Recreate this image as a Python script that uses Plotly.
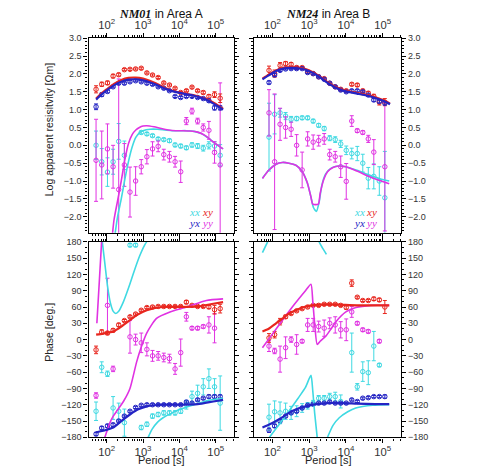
import plotly.graph_objects as go

# ---------------- periods of the observed data [s] ----------------
per_nm01 = [51, 73, 105, 150, 214, 306, 437, 624, 891, 1274, 1820, 2600, 3715, 5309,
            7586, 10840, 15490, 22130, 31620, 45190, 64570, 92260, 131800]
per_nm24 = [81, 115, 162, 229, 324, 457, 646, 912, 1288, 1820, 2570, 3631, 5129, 7244,
            10230, 14450, 20420, 28840, 40740, 57540, 81280, 114800]

# ---------------- NM01 log apparent resistivity ----------------
rho01_xy = [1.57, 1.71, 1.75, 1.94, 1.98, 2.12, 2.13, 2.14, 2.16, 2.03, 1.97, 1.90, 1.75, 1.69,
            1.60, 1.48, 1.53, 1.63, 1.53, 1.48, 1.37, 1.42, 1.32]
rho01_xy_err = [0.10, 0.06, 0.05, 0.05, 0.04, 0.03, 0.03, 0.03, 0.03, 0.03, 0.03, 0.03, 0.03, 0.03,
                0.03, 0.03, 0.03, 0.03, 0.03, 0.04, 0.05, 0.08, 0.12]
rho01_yx = [1.08, 1.42, 1.51, 1.64, 1.74, 1.74, 1.78, 1.81, 1.78, 1.74, 1.71, 1.64, 1.60, 1.53,
            1.37, 1.34, 1.37, 1.37, 1.34, 1.31, 1.25, 1.05, 1.05]
rho01_yx_err = [0.08, 0.05, 0.04, 0.03, 0.03, 0.03, 0.03, 0.03, 0.03, 0.03, 0.03, 0.03, 0.03, 0.03,
                0.03, 0.03, 0.03, 0.03, 0.03, 0.03, 0.04, 0.06, 0.06]
rho01_xx = [0.0, -0.46, -0.75, -0.46, 0.11, -0.28, None, None, 0.36, 0.32, 0.27, 0.18, 0.16, 0.13,
            0.01, -0.02, -0.07, 0.01, -0.02, -0.08, 0.0, -0.02, -0.28]
rho01_xx_err = [0.40, 0.37, 0.40, 0.35, 0.50, 0.40, 0, 0, 0.04, 0.04, 0.04, 0.04, 0.04, 0.05,
                0.05, 0.05, 0.05, 0.06, 0.07, 0.08, 0.10, 0.12, 0.30]
rho01_yy = [-0.42, -0.55, -0.10, -0.60, -1.24, -0.55, -1.31, -1.00, -0.60, -0.32, -0.10, -0.03,
            -0.26, -0.32, -0.46, -0.74, 0.68, 0.96, 0.68, 0.50, 0.42, -0.20, -0.55]
rho01_yy_err = [1.15, 0.95, 0.70, 0.60, 3.10, 0.60, 0.70, 0.40, 0.20, 0.20, 0.20, 0.15, 0.15, 0.15,
                0.15, 0.30, 0.10, 0.08, 0.08, 0.10, 0.25, 0.30, 2.30]

# ---------------- NM24 log apparent resistivity ----------------
rho24_xy = [2.10, 2.01, 2.24, 2.29, 2.27, 2.18, 2.18, 2.06, 2.01, 1.92, 1.87, 1.74, 1.64, 1.57,
            1.53, 1.71, 1.69, 1.53, 1.46, 1.37, 1.21, 1.21]
rho24_xy_err = [0.12, 0.10, 0.08, 0.06, 0.05, 0.04, 0.03, 0.03, 0.03, 0.03, 0.03, 0.03, 0.03, 0.03,
                0.03, 0.04, 0.04, 0.04, 0.05, 0.06, 0.08, 0.10]
rho24_yx = [1.76, 1.97, 2.10, 2.14, 2.15, 2.15, 2.15, 2.04, 2.01, 1.92, 1.85, 1.74, 1.64, 1.55,
            1.50, 1.53, 1.53, 1.50, 1.41, 1.27, 1.23, 1.18]
rho24_yx_err = [0.04, 0.04, 0.03, 0.03, 0.03, 0.03, 0.03, 0.03, 0.03, 0.03, 0.03, 0.03, 0.03, 0.03,
                0.03, 0.03, 0.03, 0.03, 0.03, 0.04, 0.04, 0.05]
rho24_xx = [0.23, 0.87, 0.91, 0.82, 0.73, 0.75, 0.77, 0.77, 0.68, 0.56, 0.47, 0.20, 0.16, 0.04,
            -0.14, -0.23, -0.23, -0.50, -0.92, -0.87, -1.00, -1.47]
rho24_xx_err = [0.95, 0.55, 0.12, 0.10, 0.08, 0.06, 0.05, 0.05, 0.05, 0.05, 0.06, 0.07, 0.08, 0.10,
                0.12, 0.15, 0.20, 0.25, 0.30, 0.35, 0.40, 1.30]
rho24_yy = [0.91, -0.46, 0.59, 0.50, 0.45, 0.00, -0.69, 0.18, 0.09, 0.13, 0.18, -0.26, -0.32, -0.60,
            -1.01, 0.68, 0.41, 0.36, 0.18, -0.19, None, -0.60]
rho24_yy_err = [0.65, 1.90, 0.45, 0.30, 0.20, 0.30, 0.50, 0.20, 0.20, 0.15, 0.15, 0.15, 0.15, 0.30,
                0.50, 0.15, 0.05, 0.05, 0.10, 0.35, 0, 1.80]

# ---------------- NM01 phase [deg] ----------------
ph01_xy = [-19, 14, 12, 17, 27, 35, 42, 47, 54, 59, 60, 61, 61, 61, 61, 61, 69, 63, 61, 61, 60, 55, 57]
ph01_xy_err = [7, 4, 3, 3, 3, 2, 2, 2, 2, 2, 2, 2, 2, 2, 2, 2, 3, 2, 2, 2, 3, 8, 8]
ph01_yx = [-174, -163, -159, -157, -150, -141, -132, -125, -121, -120, -120, -120, -120, -120,
           -120, -120, -115, -117, -111, -108, -105, -105, -105]
ph01_yx_err = [3, 3, 3, 3, 2, 2, 2, 2, 2, 2, 2, 2, 2, 2, 2, 2, 2, 2, 2, 2, 3, 3, 3]
ph01_xx = [-132, -51, -63, -126, -132, -153, 174, 174, -162, -156, -141, -138, -135, -135, -135,
           -132, -120, -105, -99, -87, -72, -87, -117]
ph01_xx_err = [17, 10, 5, 21, 15, 25, 3, 3, 4, 4, 4, 4, 4, 4, 4, 4, 8, 10, 15, 15, 18, 15, 50]
ph01_yy = [-103, None, 63, -54, None, None, 5, 0, -6, -18, -30, -30, -33, -35, -54, -24, 42, 21,
           21, 24, 27, 21, None]
ph01_yy_err = [5, 0, 50, 5, 0, 0, 30, 10, 18, 12, 10, 8, 8, 8, 10, 25, 8, 3, 3, 3, 15, 27, 0]

# ---------------- NM24 phase [deg] ----------------
ph24_xy = [3, 9, 33, 42, 48, 53, 57, 60, 63, 63, 65, 65, 65, 63, 59, 104, 78, 72, 72, 75, 73, 60]
ph24_xy_err = [8, 6, 6, 3, 2, 2, 2, 2, 2, 2, 2, 2, 2, 2, 3, 6, 2, 2, 2, 3, 3, 12]
ph24_yx = [-167, -159, -150, -141, -135, -132, -126, -121, -119, -117, -117, -115, -117, -117,
           -117, -111, -114, -108, -107, -105, -105, -105]
ph24_yx_err = [4, 3, 3, 2, 2, 2, 2, 2, 2, 2, 2, 2, 2, 2, 2, 2, 2, 2, 2, 2, 2, 3]
ph24_xx = [-143, -133, -135, -132, -135, -132, -126, -122, -117, -108, -108, -105, -105, -114,
           None, -24, -87, -59, -61, -12, -47, None]
ph24_xx_err = [24, 20, 20, 15, 12, 10, 8, 6, 5, 5, 5, 6, 8, 12, 0, 36, 6, 18, 22, 27, 3, 0]
ph24_yy = [-12, -21, -36, -15, 0, -9, -3, 27, 27, 24, 21, 30, 27, 18, 18, 51, 30, 18, 15, None, -3, None]
ph24_yy_err = [10, 5, 24, 20, 5, 18, 3, 12, 12, 10, 15, 10, 15, 15, 20, 10, 3, 3, 3, 0, 3, 0]

# ---------------- model responses (log10 period nodes) ----------------
m01_rho_T = [1.71, 1.85, 2.0, 2.2, 2.4, 2.6, 2.8, 3.0, 3.2, 3.4, 3.6, 3.8, 4.0, 4.2, 4.4, 4.6, 4.8, 5.0, 5.2]
m01_rho_xy = [1.31, 1.45, 1.57, 1.72, 1.83, 1.89, 1.90, 1.87, 1.80, 1.71, 1.61, 1.53, 1.48, 1.44, 1.40, 1.34, 1.27, 1.16, 1.02]
m01_rho_yx = [1.28, 1.42, 1.54, 1.68, 1.78, 1.84, 1.85, 1.82, 1.76, 1.68, 1.59, 1.52, 1.47, 1.43, 1.39, 1.33, 1.25, 1.13, 1.00]
m01_rho_xx_T = [2.2, 2.3, 2.4, 2.5, 2.6, 2.7, 2.8, 2.9, 3.0, 3.2, 3.4, 3.6, 3.8, 4.0, 4.2, 4.4, 4.6, 4.8, 5.0, 5.2]
m01_rho_xx = [-2.7, -2.0, -1.5, -0.95, -0.45, -0.05, 0.22, 0.35, 0.41, 0.45, 0.45, 0.43, 0.41, 0.41, 0.41, 0.39, 0.33, 0.20, 0.04, -0.10]
m01_rho_yy_T = [2.14, 2.2, 2.3, 2.4, 2.5, 2.6, 2.7, 2.8, 2.9, 3.0, 3.1, 3.3, 3.5, 3.7, 3.9, 4.1, 4.3, 4.5, 4.7, 4.9, 5.1, 5.2]
m01_rho_yy = [-2.7, -2.1, -1.55, -1.0, -0.4, 0.05, 0.30, 0.43, 0.50, 0.54, 0.55, 0.52, 0.47, 0.43, 0.41, 0.41, 0.40, 0.37, 0.28, 0.12, -0.03, -0.10]

m24_rho_T = [1.73, 1.9, 2.1, 2.3, 2.5, 2.7, 2.9, 3.1, 3.3, 3.5, 3.7, 3.9, 4.1, 4.3, 4.5, 4.7, 4.9, 5.1, 5.2]
m24_rho_xy = [1.87, 1.98, 2.10, 2.17, 2.19, 2.18, 2.14, 2.05, 1.92, 1.77, 1.65, 1.56, 1.51, 1.47, 1.43, 1.38, 1.31, 1.23, 1.17]
m24_rho_yx = [1.85, 1.96, 2.08, 2.15, 2.17, 2.16, 2.12, 2.03, 1.90, 1.75, 1.63, 1.54, 1.49, 1.45, 1.41, 1.36, 1.29, 1.21, 1.15]
m24_rho_xx_T = [1.73, 1.9, 2.1, 2.27, 2.45, 2.64, 2.8, 2.95, 3.05, 3.12, 3.2, 3.27, 3.35, 3.45, 3.6, 3.8, 4.0, 4.3, 4.6, 4.9, 5.18]
m24_rho_xx = [-0.92, -0.70, -0.53, -0.48, -0.50, -0.56, -0.72, -1.05, -1.45, -1.75, -1.85, -1.60, -1.10, -0.80, -0.64, -0.58, -0.60, -0.70, -0.82, -0.93, -1.00]
m24_rho_yy_T = [1.73, 1.9, 2.1, 2.27, 2.45, 2.64, 2.8, 2.95, 3.05, 3.1, 3.25, 3.3, 3.4, 3.5, 3.65, 3.8, 4.0, 4.3, 4.6, 4.9, 5.18]
m24_rho_yy = [-0.93, -0.70, -0.53, -0.48, -0.50, -0.56, -0.72, -1.05, -1.45, -1.65, -1.65, -1.35, -0.95, -0.74, -0.62, -0.58, -0.60, -0.72, -0.86, -0.98, -1.08]

m01_ph_T = [1.71, 1.9, 2.18, 2.4, 2.64, 2.85, 3.1, 3.3, 3.55, 4.0, 4.5, 4.93, 5.2]
m01_ph_xy = [9, 11, 15, 24, 36, 46, 54, 58, 60, 60, 61, 66, 69]
m01_ph_yx = [-171, -168, -162, -150, -138, -129, -123, -121, -120, -120, -119, -114, -111]
m01_ph_xx_T = [1.88, 1.95, 2.02, 2.1, 2.18, 2.25, 2.33, 2.45, 2.6, 2.75, 2.9, 3.05, 3.1, None,
               3.14, 3.25, 3.4, 3.55, 3.8, 4.0, 4.4, 4.8, 5.2]
m01_ph_xx = [180, 140, 100, 68, 52, 48, 52, 68, 95, 125, 153, 175, 180, None,
             -180, -165, -152, -144, -135, -129, -120, -112, -108]
m01_ph_yy_T = [1.73, 1.8, 1.86, None, 1.95, 2.09, 2.18, 2.46, 2.64, 2.82, 2.96, 3.1, 3.37, 3.74, 4.2, 4.74, 5.2]
m01_ph_yy = [30, 110, 180, None, -180, -153, -141, -114, -90, -42, -12, 12, 39, 51, 60, 72, 75]

m24_ph_T = [1.73, 1.9, 2.1, 2.3, 2.45, 2.7, 2.91, 3.2, 3.5, 3.9, 4.3, 4.8, 5.18]
m24_ph_xy = [15, 20, 30, 40, 48, 56, 61, 64, 65, 64, 63, 63, 63]
m24_ph_yx = [-162, -157, -150, -142, -135, -127, -123, -119, -117, -117, -118, -119, -119]
m24_ph_xx_T = [1.73, 1.87, None, 1.92, 2.2, 2.45, 2.7, 2.9, 3.05, 3.1, 3.15, 3.22, None,
               3.27, 3.37, 3.47, None, 3.5, 3.65, 3.82, 4.05, 4.27, 4.73, 5.18]
m24_ph_xx = [160, 180, None, -180, -155, -132, -108, -88, -66, -95, -135, -180, None,
             180, 168, 157, None, -180, -158, -144, -133, -126, -121, -120]
m24_ph_yy_T = [1.73, 2.0, 2.3, 2.6, 2.9, 3.05, 3.1, 3.15, 3.22, 3.3, 3.45, 3.6, 3.73, 4.0, 4.27, 4.7, 5.18]
m24_ph_yy = [-15, 10, 38, 65, 90, 102, 70, 30, -9, -3, 6, 20, 33, 51, 59, 63, 63]

# ---------------- labels ----------------
titles = ["<span style='font-family:Liberation Serif'><b><i>NM01</i></b></span> in Area A",
          "<span style='font-family:Liberation Serif'><b><i>NM24</i></b></span> in Area B"]
rho_label = "Log apparent resisitvity [Ωm]"
phase_label = "Phase [deg.]"
period_label = "Period [s]"
legend_items = [["xx", "xy"], ["yx", "yy"]]

# ---------------- styling ----------------
COL = {"xx": "#3FD9E2", "xy": "#E8261E", "yx": "#2424C4", "yy": "#E032E2"}
W = 477
H = 470
XL = [88.5 / W, 234 / W]
XR = [254 / W, 401 / W]
YT = [1 - 232.7 / H, 1 - 34 / H]
YB = [1 - 441.7 / H, 1 - 242 / H]

fig = go.Figure()


def tsec(vals):
    return [None if v is None else 10 ** v for v in vals]


def add_data(per, y, err, comp, ax):
    fig.add_trace(go.Scatter(
        x=per, y=y, mode="markers", xaxis="x" + ax, yaxis="y" + ax,
        marker=dict(symbol="circle-open", size=4.5, color=COL[comp], line=dict(width=1, color=COL[comp])),
        error_y=dict(type="data", array=err, color=COL[comp], thickness=1, width=2),
        showlegend=False, hoverinfo="skip"))


def add_model(T, y, comp, ax, width):
    fig.add_trace(go.Scatter(
        x=tsec(T), y=y, mode="lines", xaxis="x" + ax, yaxis="y" + ax, connectgaps=False,
        line=dict(color=COL[comp], width=width, shape="spline", smoothing=0.6),
        showlegend=False, hoverinfo="skip"))


# panel 1: NM01 rho
for comp, y, e in [("xx", rho01_xx, rho01_xx_err), ("yy", rho01_yy, rho01_yy_err),
                   ("xy", rho01_xy, rho01_xy_err), ("yx", rho01_yx, rho01_yx_err)]:
    add_data(per_nm01, y, e, comp, "")
add_model(m01_rho_xx_T, m01_rho_xx, "xx", "", 1.6)
add_model(m01_rho_yy_T, m01_rho_yy, "yy", "", 1.6)
add_model(m01_rho_T, m01_rho_xy, "xy", "", 2.2)
add_model(m01_rho_T, m01_rho_yx, "yx", "", 2.2)

# panel 2: NM24 rho
for comp, y, e in [("xx", rho24_xx, rho24_xx_err), ("yy", rho24_yy, rho24_yy_err),
                   ("xy", rho24_xy, rho24_xy_err), ("yx", rho24_yx, rho24_yx_err)]:
    add_data(per_nm24, y, e, comp, "2")
add_model(m24_rho_xx_T, m24_rho_xx, "xx", "2", 1.6)
add_model(m24_rho_yy_T, m24_rho_yy, "yy", "2", 1.6)
add_model(m24_rho_T, m24_rho_xy, "xy", "2", 2.2)
add_model(m24_rho_T, m24_rho_yx, "yx", "2", 2.2)

# panel 3: NM01 phase
for comp, y, e in [("xx", ph01_xx, ph01_xx_err), ("yy", ph01_yy, ph01_yy_err),
                   ("xy", ph01_xy, ph01_xy_err), ("yx", ph01_yx, ph01_yx_err)]:
    add_data(per_nm01, y, e, comp, "3")
add_model(m01_ph_xx_T, m01_ph_xx, "xx", "3", 1.6)
add_model(m01_ph_yy_T, m01_ph_yy, "yy", "3", 1.6)
add_model(m01_ph_T, m01_ph_xy, "xy", "3", 2.2)
add_model(m01_ph_T, m01_ph_yx, "yx", "3", 2.2)

# panel 4: NM24 phase
for comp, y, e in [("xx", ph24_xx, ph24_xx_err), ("yy", ph24_yy, ph24_yy_err),
                   ("xy", ph24_xy, ph24_xy_err), ("yx", ph24_yx, ph24_yx_err)]:
    add_data(per_nm24, y, e, comp, "4")
add_model(m24_ph_xx_T, m24_ph_xx, "xx", "4", 1.6)
add_model(m24_ph_yy_T, m24_ph_yy, "yy", "4", 1.6)
add_model(m24_ph_T, m24_ph_xy, "xy", "4", 2.2)
add_model(m24_ph_T, m24_ph_yx, "yx", "4", 2.2)

TICKFONT = dict(family="Liberation Sans, Arial, sans-serif", size=9, color="#333333")
base = dict(showline=True, linecolor="black", linewidth=1.4, mirror="allticks", ticks="outside",
            ticklen=4, tickwidth=1, tickcolor="black", showgrid=False, zeroline=False,
            tickfont=TICKFONT)


def xax(domain, anchor, side):
    return dict(base, type="log", range=[1.5, 5.5], dtick=1, exponentformat="power",
                domain=domain, anchor=anchor, side=side,
                minor=dict(ticks="outside", ticklen=2, tickwidth=0.8, tickcolor="black",
                           dtick="D1", showgrid=False))


def yax(domain, anchor, side, rng, dt, mdt, fmt):
    return dict(base, range=rng, dtick=dt, tick0=0, tickformat=fmt, domain=domain,
                anchor=anchor, side=side,
                minor=dict(ticks="outside", ticklen=2, tickwidth=0.8, tickcolor="black",
                           dtick=mdt, showgrid=False))


RHO_RANGE = [-2.45, 3.0]
PH_RANGE = [-180, 180]

fig.update_layout(
    width=W, height=H, margin=dict(l=0, r=0, t=0, b=0),
    paper_bgcolor="white", plot_bgcolor="white", showlegend=False,
    xaxis=xax(XL, "y", "top"),
    yaxis=yax(YT, "x", "left", RHO_RANGE, 0.5, 0.1, ".1f"),
    xaxis2=xax(XR, "y2", "top"),
    yaxis2=yax(YT, "x2", "right", RHO_RANGE, 0.5, 0.1, ".1f"),
    xaxis3=xax(XL, "y3", "bottom"),
    yaxis3=yax(YB, "x3", "left", PH_RANGE, 30, 10, "d"),
    xaxis4=xax(XR, "y4", "bottom"),
    yaxis4=yax(YB, "x4", "right", PH_RANGE, 30, 10, "d"),
)

ann = []
LABELFONT = dict(family="Liberation Sans, Arial, sans-serif", size=11, color="#222222")
for xd, t in [(XL, titles[0]), (XR, titles[1])]:
    ann.append(dict(text=t, x=(xd[0] + xd[1]) / 2, y=1 - 9 / H, xref="paper", yref="paper",
                    showarrow=False, xanchor="center", yanchor="middle",
                    font=dict(family="Liberation Sans, Arial, sans-serif", size=12, color="#111111")))
    ann.append(dict(text=period_label, x=(xd[0] + xd[1]) / 2, y=1 - 465 / H, xref="paper",
                    yref="paper", showarrow=False, xanchor="center", yanchor="middle", font=LABELFONT))
ann.append(dict(text=rho_label, x=49 / W, y=1 - 128 / H, xref="paper", yref="paper",
                showarrow=False, textangle=-90, xanchor="center", yanchor="middle",
                font=dict(family="Liberation Sans, Arial, sans-serif", size=10.5, color="#222222")))
ann.append(dict(text=phase_label, x=49 / W, y=1 - 335 / H, xref="paper", yref="paper",
                showarrow=False, textangle=-90, xanchor="center", yanchor="middle",
                font=dict(family="Liberation Sans, Arial, sans-serif", size=10.5, color="#222222")))

# component legends inside the resistivity panels
for x0 in [194.5, 359.0]:
    for r, row in enumerate(legend_items):
        for c, comp in enumerate(row):
            ann.append(dict(text="<i>" + comp + "</i>", x=(x0 + c * 12.5) / W,
                            y=1 - (211 + r * 11.3) / H, xref="paper", yref="paper",
                            showarrow=False, xanchor="center", yanchor="middle",
                            font=dict(family="Liberation Serif, Times New Roman, serif",
                                      size=11, color=COL[comp])))

fig.update_layout(annotations=ann)
fig.write_html("out.html")
